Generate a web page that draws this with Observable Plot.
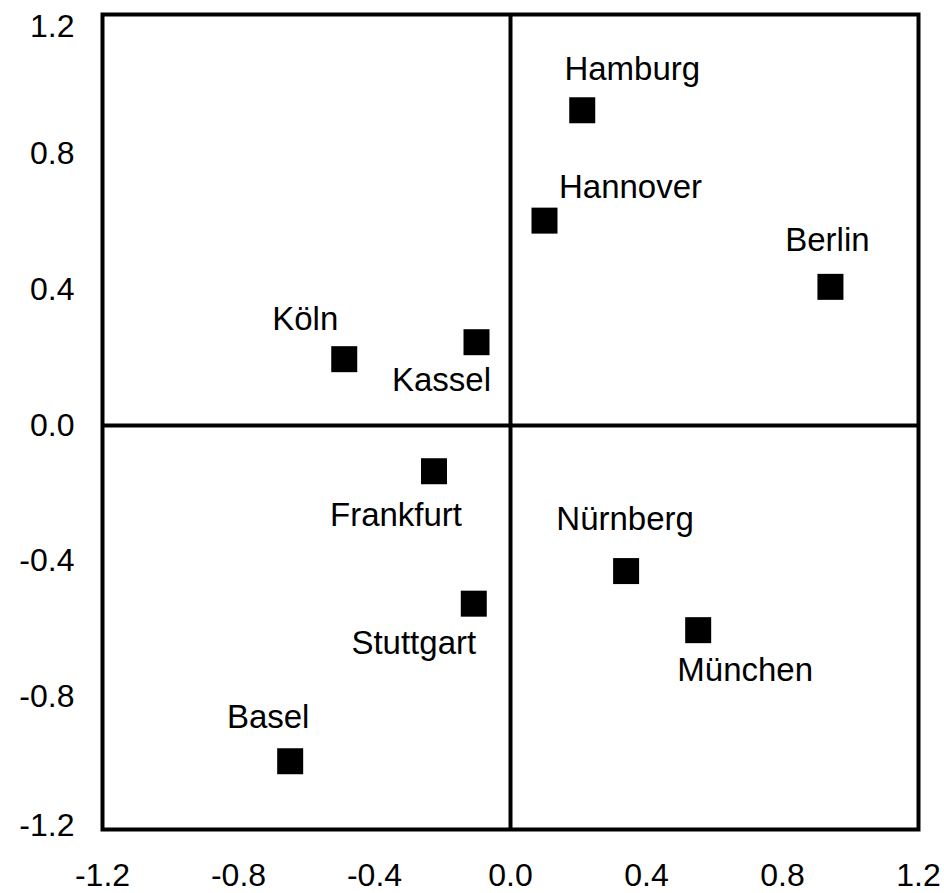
<!DOCTYPE html>
<html>
<head>
<meta charset="utf-8">
<script src="https://cdn.jsdelivr.net/npm/d3@7"></script>
<script src="https://cdn.jsdelivr.net/npm/@observablehq/plot@0.6"></script>
<style>
  html, body { margin: 0; padding: 0; background: #fff; }
  #chart { width: 944px; height: 893px; }
</style>
</head>
<body>
<div id="chart"></div>
<script>
// Data
const cities = ["Hamburg", "Hannover", "Berlin", "Köln", "Kassel", "Frankfurt", "Nürnberg", "München", "Stuttgart", "Basel"];
const dim1 = [0.211, 0.100, 0.941, -0.489, -0.100, -0.225, 0.340, 0.552, -0.108, -0.648];
const dim2 = [0.928, 0.603, 0.408, 0.195, 0.245, -0.135, -0.429, -0.603, -0.525, -0.989];
const tickValues = [-1.2, -0.8, -0.4, 0.0, 0.4, 0.8, 1.2];

const data = cities.map((name, i) => ({name, x: dim1[i], y: dim2[i]}));
const fmt = d => d.toFixed(1);
const FONT = "'Liberation Sans', Arial, Helvetica, sans-serif";

// label placement (mark options, not data)
const placements = [
  {names: ["Hamburg"], dx: 50, dy: -41},
  {names: ["Hannover"], dx: 86, dy: -33},
  {names: ["Berlin"], dx: -3, dy: -46},
  {names: ["Köln"], dx: -39, dy: -40},
  {names: ["Kassel"], dx: -35, dy: 38},
  {names: ["Frankfurt"], dx: -38, dy: 44},
  {names: ["Nürnberg"], dx: -1, dy: -52},
  {names: ["München"], dx: 47, dy: 40},
  {names: ["Stuttgart"], dx: -60, dy: 40},
  {names: ["Basel"], dx: -22, dy: -44}
];

const labelMarks = placements.map(p =>
  Plot.text(data.filter(d => p.names.includes(d.name)), {
    x: "x", y: "y", text: "name",
    dx: p.dx, dy: p.dy,
    fontSize: 33, fill: "black", textAnchor: "middle"
  })
);

const chart = Plot.plot({
  width: 944,
  height: 893,
  marginLeft: 102,
  marginRight: 26,
  marginTop: 14,
  marginBottom: 64,
  style: {fontFamily: FONT, background: "white", color: "black"},
  x: {domain: [-1.2, 1.2]},
  y: {domain: [-1.19, 1.21]},
  marks: [
    Plot.ruleX([0], {stroke: "black", strokeWidth: 4}),
    Plot.ruleY([0], {stroke: "black", strokeWidth: 4}),
    Plot.frame({stroke: "black", strokeWidth: 4}),
    Plot.axisX(tickValues, {tickSize: 0, tickPadding: 34, fontSize: 32, tickFormat: fmt, label: null}),
    Plot.axisY(tickValues.filter(v => Math.abs(v) < 1.1), {tickSize: 0, tickPadding: 28, fontSize: 32, tickFormat: fmt, label: null}),
    Plot.axisY([1.2], {tickSize: 0, tickPadding: 28, fontSize: 32, tickFormat: fmt, label: null, dy: 9}),
    Plot.axisY([-1.2], {tickSize: 0, tickPadding: 28, fontSize: 32, tickFormat: fmt, label: null, dy: -7}),
    Plot.dot(data, {x: "x", y: "y", symbol: "square", r: 14.67, fill: "black", stroke: null}),
    ...labelMarks
  ]
});

document.getElementById("chart").appendChild(chart);
</script>
</body>
</html>
